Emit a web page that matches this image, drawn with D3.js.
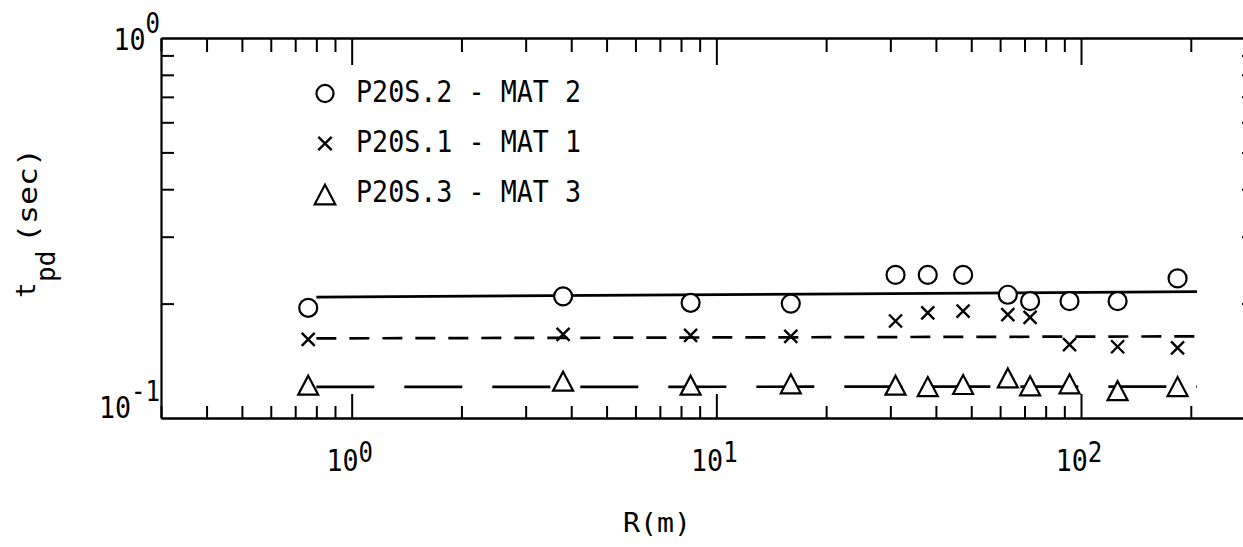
<!DOCTYPE html>
<html>
<head>
<meta charset="utf-8">
<script src="https://cdn.jsdelivr.net/npm/d3@7"></script>
<style>
  html, body { margin: 0; padding: 0; background: #fff; }
  svg { display: block; }
  text { font-family: "DejaVu Sans Mono", "Liberation Mono", monospace; fill: #000; }
</style>
</head>
<body>
<svg id="chart" width="1243" height="547"></svg>
<script>
// Distance R (m) shared by the three test series
const radii = [0.76, 3.8, 8.5, 16, 31, 38, 47.5, 63, 72.5, 93, 126, 184];
// t_pd (sec) for each material
const mat2 = [0.195, 0.209, 0.201, 0.200, 0.238, 0.238, 0.238, 0.211, 0.203, 0.203, 0.203, 0.233];
const mat1 = [0.161, 0.166, 0.165, 0.164, 0.180, 0.189, 0.191, 0.187, 0.184, 0.156, 0.154, 0.153];
const mat3 = [0.122, 0.125, 0.122, 0.123, 0.122, 0.121, 0.1225, 0.1275, 0.1215, 0.123, 0.118, 0.121];
// Fitted trend lines (end points)
const fitR = [0.8, 208];
const fit2 = [0.208, 0.215];
const fit1 = [0.162, 0.164];
const fit3 = [0.1207, 0.121];

const legendLabels = ["P20S.2 - MAT 2", "P20S.1 - MAT 1", "P20S.3 - MAT 3"];
const xMajor = [1, 10, 100];
const xMinor = [0.3, 0.4, 0.5, 0.6, 0.7, 0.8, 0.9, 2, 3, 4, 5, 6, 7, 8, 9, 20, 30, 40, 50, 60, 70, 80, 90, 200];
const yMinor = [0.2, 0.3, 0.4, 0.5, 0.6, 0.7, 0.8, 0.9];
const xTickExp = ["0", "1", "2"];
const yTickLabels = [{v: 1, exp: "0"}, {v: 0.1, exp: "-1"}];

const svg = d3.select("#chart");
const x = d3.scaleLog().domain([0.3, 300]).range([161, 1255]);
const y = d3.scaleLog().domain([0.1, 1]).range([418, 38]);

function styleAxis(g) {
  g.select(".domain").attr("stroke", "#000").attr("stroke-width", 2.2);
  g.selectAll(".tick line").attr("stroke", "#000").attr("stroke-width", 2);
  g.selectAll(".tick text").remove();
}

// bottom axis, ticks pointing inward
svg.append("g").attr("transform", `translate(0,${y(0.1)})`)
  .call(d3.axisBottom(x).tickValues(xMinor).tickSize(-12).tickSizeOuter(0).tickFormat(""))
  .call(styleAxis);
svg.append("g").attr("transform", `translate(0,${y(0.1)})`)
  .call(d3.axisBottom(x).tickValues(xMajor).tickSize(-24).tickSizeOuter(0).tickFormat(""))
  .call(styleAxis);
// top axis
svg.append("g").attr("transform", `translate(0,${y(1)})`)
  .call(d3.axisTop(x).tickValues(xMinor).tickSize(-14).tickSizeOuter(0).tickFormat(""))
  .call(styleAxis);
svg.append("g").attr("transform", `translate(0,${y(1)})`)
  .call(d3.axisTop(x).tickValues(xMajor).tickSize(-27).tickSizeOuter(0).tickFormat(""))
  .call(styleAxis);
// left and right axes
svg.append("g").attr("transform", `translate(${x(0.3)},0)`)
  .call(d3.axisLeft(y).tickValues(yMinor).tickSize(-13).tickSizeOuter(0).tickFormat(""))
  .call(styleAxis);
svg.append("g").attr("transform", `translate(${x(300)},0)`)
  .call(d3.axisRight(y).tickValues(yMinor).tickSize(-13).tickSizeOuter(0).tickFormat(""))
  .call(styleAxis);

// power-of-ten label: condensed, tall digits with a raised exponent
function powerLabel(px, py, exp, anchor, rise) {
  const t = svg.append("text")
    .attr("transform", `translate(${px},${py}) scale(0.86,1)`)
    .attr("text-anchor", anchor).style("font-size", "31px");
  t.append("tspan").text("10");
  t.append("tspan").attr("dy", -rise).style("font-size", "28px").text(exp);
}
xMajor.forEach((v, i) => powerLabel(x(v) - 2, 471, xTickExp[i], "middle", 9));
yTickLabels.forEach(d => powerLabel(160, y(d.v) + (d.v === 1 ? 12 : 0), d.exp, "end", 17));

// axis titles
svg.append("text").attr("x", 657).attr("y", 532).attr("text-anchor", "middle")
  .style("font-size", "26px").attr("textLength", 68).attr("lengthAdjust", "spacingAndGlyphs")
  .text("R(m)");
svg.append("text").attr("transform", "translate(35,298) rotate(-90)")
  .style("font-size", "26px").text("t");
svg.append("text").attr("transform", "translate(55,282) rotate(-90)")
  .style("font-size", "26px").text("pd");
svg.append("text").attr("transform", "translate(37,243) rotate(-90)")
  .style("font-size", "27px").attr("textLength", 95).attr("lengthAdjust", "spacingAndGlyphs")
  .text("(sec)");

// fitted lines
const line = d3.line().x(d => x(d[0])).y(d => y(d[1]));
const fits = [
  {vals: fit2, dash: null},
  {vals: fit1, dash: "20 13"},
  {vals: fit3, dash: "58 30"}
];
fits.forEach(f => {
  svg.append("path")
    .datum(fitR.map((r, i) => [r, f.vals[i]]))
    .attr("d", line)
    .attr("fill", "none").attr("stroke", "#000").attr("stroke-width", 2.7)
    .attr("stroke-dasharray", f.dash);
});

// marker shapes
function drawMarker(g, shape, cx, cy, s) {
  if (shape === "circle") {
    g.append("circle").attr("cx", cx).attr("cy", cy).attr("r", 9 * s)
      .attr("fill", "#fff").attr("stroke", "#000").attr("stroke-width", 2.2);
  } else if (shape === "cross") {
    const h = 6.5 * s;
    g.append("path")
      .attr("d", `M${cx - h},${cy - h}L${cx + h},${cy + h}M${cx + h},${cy - h}L${cx - h},${cy + h}`)
      .attr("stroke", "#000").attr("stroke-width", 2.4).attr("fill", "none");
  } else {
    const w = 10 * s, hh = 9.5 * s;
    g.append("path")
      .attr("d", `M${cx},${cy - hh}L${cx + w},${cy + hh}L${cx - w},${cy + hh}Z`)
      .attr("fill", "#fff").attr("stroke", "#000").attr("stroke-width", 2.2).attr("stroke-linejoin", "miter");
  }
}

const series = [
  {vals: mat2, shape: "circle"},
  {vals: mat1, shape: "cross"},
  {vals: mat3, shape: "triangle"}
];
series.forEach(s => {
  const g = svg.append("g");
  radii.forEach((r, i) => drawMarker(g, s.shape, x(r), y(s.vals[i]), 1));
});

// legend
const legY = [101.5, 151.5, 201.5];
const legG = svg.append("g");
legendLabels.forEach((lab, i) => {
  drawMarker(legG, series[i].shape, 325, legY[i] - 8 - (i === 2 ? -1 : 0), i === 0 ? 0.95 : 1.03);
  legG.append("text").attr("x", 356).attr("y", legY[i])
    .style("font-size", "30px").attr("textLength", 225).attr("lengthAdjust", "spacingAndGlyphs")
    .text(lab);
});
</script>
</body>
</html>
